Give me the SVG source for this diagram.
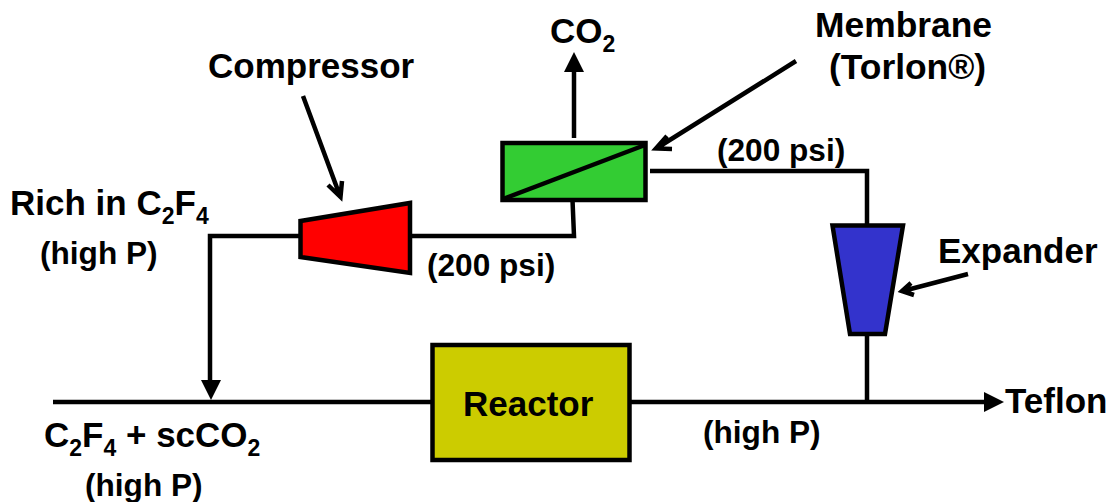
<svg xmlns="http://www.w3.org/2000/svg" width="1114" height="502" viewBox="0 0 1114 502">
<style>
text{font-family:"Liberation Sans",Arial,sans-serif;font-weight:bold;fill:#000}
.l{font-size:35px}
.m{font-size:35.400px}
.s{font-size:31.600px}
.b{font-size:23px}
.n{stroke:#000;stroke-width:4.500}
.c{fill:none;stroke:#000;stroke-width:4.500}
.h{fill:#000;stroke:none}
</style>
<rect width="1114" height="502" fill="#fff"/>
<g id="connectors">
<path class="c" d="M53 402H985"/>
<path class="h" d="M1004 402L984 392V412Z"/>
<path class="c" d="M300 236H210V381"/>
<path class="h" d="M211 400L201 380H221Z"/>
<path class="c" d="M410 236H574L572.500 200"/>
<path class="c" d="M574 138V71"/>
<path class="h" d="M574 52L564 72H584Z"/>
<path class="c" d="M650 171H867V226"/>
<path class="c" d="M867 332V402"/>
<path class="c" d="M796 61L657 148M667 136L656 148.500L672 149"/>
<path class="c" d="M303 96L340 196M328 185L340.500 197L342 181"/>
<path class="c" d="M968 274L903 291M911 283L902 291L914 295"/>
</g>
<g id="membrane"><rect class="n" x="502.500" y="143" width="143" height="57" fill="#33cc33"/><path class="c" d="M503 199L645 145"/></g>
<g id="compressor"><polygon class="n" points="300.500,221 410,203 410,273 300.500,257" fill="#ff0000"/></g>
<g id="expander"><polygon class="n" points="832.500,225.500 903,225.500 885,334 850,334" fill="#3333cc"/></g>
<g id="reactor"><rect class="n" x="432.500" y="345" width="197" height="115" fill="#cccc00"/><text class="l" x="463" y="416">Reactor</text></g>
<g id="labels">
<text class="l" x="208" y="78">Compressor</text>
<text class="l" x="550" y="43">CO<tspan class="b" dy="9">2</tspan></text>
<text class="m" x="815" y="37">Membrane</text>
<text class="m" x="829" y="79">(Torlon®)</text>
<text class="s" x="717" y="161">(200 psi)</text>
<text class="s" x="427" y="276">(200 psi)</text>
<text class="l" x="10" y="215">Rich in C<tspan class="b" dy="9">2</tspan><tspan dy="-9">F</tspan><tspan class="b" dy="9">4</tspan></text>
<text class="s" x="40" y="264">(high P)</text>
<text class="l" x="938" y="263">Expander</text>
<text class="l" x="1005" y="413">Teflon</text>
<text class="s" x="703" y="443">(high P)</text>
<text class="l" x="44" y="447">C<tspan class="b" dy="9">2</tspan><tspan dy="-9">F</tspan><tspan class="b" dy="9">4</tspan><tspan dy="-9"> + scCO</tspan><tspan class="b" dy="9">2</tspan></text>
<text class="s" x="85" y="496">(high P)</text>
</g>
</svg>
